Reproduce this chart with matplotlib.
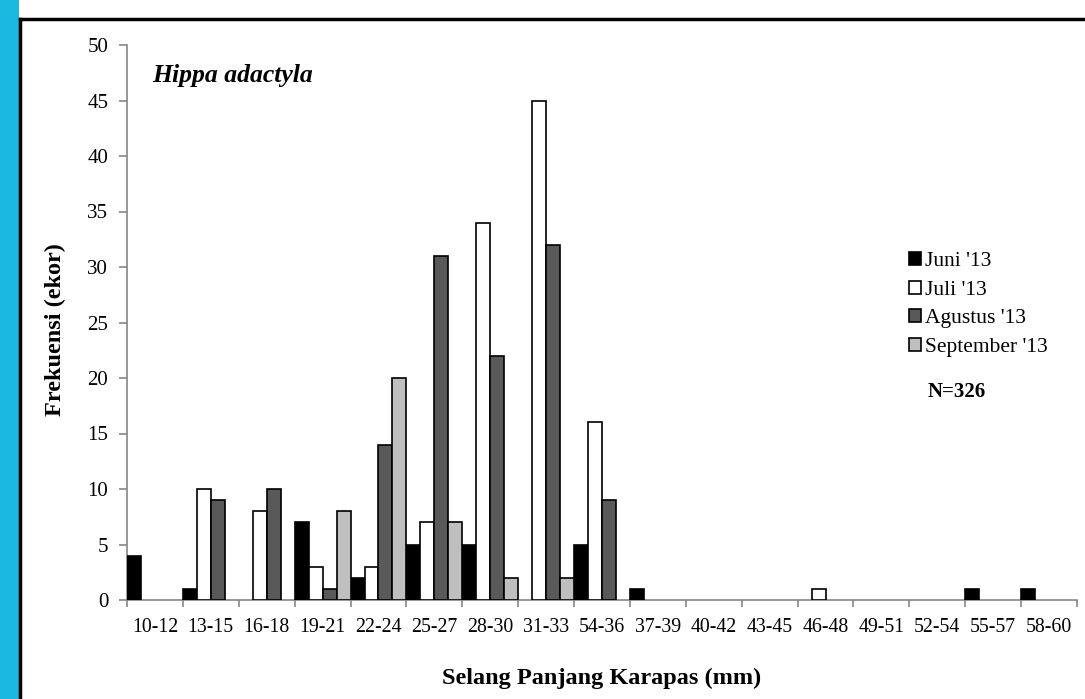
import matplotlib.pyplot as plt
from matplotlib.patches import Rectangle
from matplotlib.lines import Line2D
import numpy as np

plt.rcParams['font.family'] = ['Liberation Serif', 'DejaVu Serif']

categories = ['10-12', '13-15', '16-18', '19-21', '22-24', '25-27', '28-30', '31-33', '54-36',
              '37-39', '40-42', '43-45', '46-48', '49-51', '52-54', '55-57', '58-60']
juni = [4, 1, 0, 7, 2, 5, 5, 0, 5, 1, 0, 0, 0, 0, 0, 1, 1]
juli = [0, 10, 8, 3, 3, 7, 34, 45, 16, 0, 0, 0, 1, 0, 0, 0, 0]
agustus = [0, 9, 10, 1, 14, 31, 22, 32, 9, 0, 0, 0, 0, 0, 0, 0, 0]
september = [0, 0, 0, 8, 20, 7, 2, 2, 0, 0, 0, 0, 0, 0, 0, 0, 0]

series = [("Juni '13", juni, 'black'),
          ("Juli '13", juli, 'white'),
          ("Agustus '13", agustus, '#595959'),
          ("September '13", september, '#bfbfbf')]

fig = plt.figure(figsize=(10.85, 6.99), dpi=100)

# frame decoration of the original screenshot
fig.patches.append(Rectangle((0, 0), 19 / 1085, 1, transform=fig.transFigure,
                             facecolor='#1bb9e0', edgecolor='none', zorder=0))
fig.lines.append(Line2D([20 / 1085, 20 / 1085], [0, 1 - 19 / 699], transform=fig.transFigure,
                        color='black', lw=2.5))
fig.lines.append(Line2D([20 / 1085, 1], [1 - 19 / 699, 1 - 19 / 699], transform=fig.transFigure,
                        color='black', lw=2.5))

ax = fig.add_axes([127 / 1085, 1 - 600 / 699, 950 / 1085, 555 / 699])

x = np.arange(len(categories))
w = 0.25
for i, (name, vals, col) in enumerate(series):
    vals = np.array(vals)
    m = vals > 0
    ax.bar(x[m] - 0.5 + w * i, vals[m], width=w, align='edge', color=col,
           edgecolor='black', linewidth=1.2, label=name, zorder=3)

ax.set_xlim(-0.5, len(categories) - 0.5)
ax.set_ylim(0, 50)
ax.set_yticks(range(0, 51, 5))
ax.set_xticks(np.arange(len(categories) + 1) - 0.5)
ax.set_xticklabels([])
ax.set_xticks(x, minor=True)
ax.set_xticklabels(categories, minor=True)
ax.tick_params(axis='x', which='minor', length=0, pad=13, labelsize=14.3)
ax.tick_params(axis='x', which='major', length=5, color='#868686', width=1.2)
ax.tick_params(axis='y', length=5.5, color='#868686', width=1.2, labelsize=15, pad=8)

for s in ['top', 'right']:
    ax.spines[s].set_visible(False)
for s in ['left', 'bottom']:
    ax.spines[s].set_color('#868686')
    ax.spines[s].set_linewidth(1.2)

ax.set_xlabel('Selang Panjang Karapas (mm)', fontsize=17.5, fontweight='bold', labelpad=22)
ax.set_ylabel('Frekuensi (ekor)', fontsize=17.5, fontweight='bold')
ax.yaxis.set_label_coords(-0.0642, 0.488)

ax.text(0.027, 0.945, 'Hippa adactyla', transform=ax.transAxes, fontsize=18.5,
        fontweight='bold', fontstyle='italic', va='center', ha='left')

leg = ax.legend(loc='upper left', bbox_to_anchor=(0.814, 0.643), frameon=False,
                fontsize=15.5, handlelength=0.55, handleheight=0.55, handletextpad=0.2,
                labelspacing=0.45, borderaxespad=0)
ax.text(0.843, 0.375, 'N=326', transform=ax.transAxes, fontsize=15,
        fontweight='bold', va='center', ha='left')

fig.savefig('out.png', dpi=100)
